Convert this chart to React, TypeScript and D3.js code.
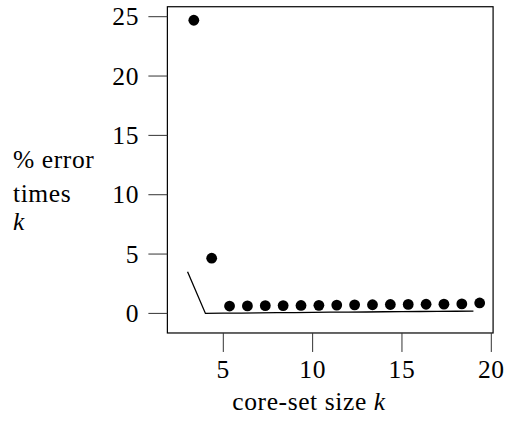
import React from "react";
import * as d3 from "d3";

// core-set size k
const sizes = [3, 4, 5, 6, 7, 8, 9, 10, 11, 12, 13, 14, 15, 16, 17, 18, 19];
// % error times k (dots)
const errorDots = [24.7, 4.65, 0.62, 0.63, 0.65, 0.66, 0.67, 0.68, 0.7, 0.72, 0.73, 0.75, 0.76, 0.77, 0.78, 0.8, 0.88];
// comparison curve (line)
const errorLine = [3.5, 0.0, 0.02, 0.03, 0.05, 0.06, 0.07, 0.08, 0.1, 0.11, 0.12, 0.14, 0.15, 0.16, 0.17, 0.18, 0.2];
const xTicks = [5, 10, 15, 20];
const yTicks = [0, 5, 10, 15, 20, 25];

const width = 509;
const height = 421;
const textStyle = { fontFamily: '"Liberation Serif"', fontSize: 25.5, letterSpacing: 0.6 };

export default function App() {
  const x = d3.scaleLinear().domain([5, 20]).range([223.3, 491.3]);
  const y = d3.scaleLinear().domain([0, 25]).range([313.4, 16.7]);

  const box = { left: x(1.87), right: x(20.1), top: y(25.84), bottom: y(-1.65) };

  const line = d3
    .line<number>()
    .x((_, i) => x(sizes[i]))
    .y((d) => y(d));

  return (
    <svg width={width} height={height} style={{ position: "absolute", left: 0, top: 0 }}>
      <rect x={0} y={0} width={width} height={height} fill="#fff" />
      <rect
        x={box.left}
        y={box.top}
        width={box.right - box.left}
        height={box.bottom - box.top}
        fill="none"
        stroke="#000"
        strokeWidth={1.2}
      />
      {yTicks.map((t) => (
        <g key={"y" + t}>
          <line x1={box.left - 19} x2={box.left} y1={y(t)} y2={y(t)} stroke="#333" strokeWidth={1} />
          <text x={139} y={y(t)} dy="0.34em" textAnchor="end" style={textStyle}>
            {t}
          </text>
        </g>
      ))}
      {xTicks.map((t) => (
        <g key={"x" + t}>
          <line x1={x(t)} x2={x(t)} y1={box.bottom} y2={box.bottom + 19} stroke="#333" strokeWidth={1} />
          <text x={x(t)} y={378} textAnchor="middle" style={textStyle}>
            {t}
          </text>
        </g>
      ))}
      <path d={line(errorLine) || ""} fill="none" stroke="#000" strokeWidth={1.3} />
      {errorDots.map((d, i) => (
        <circle key={i} cx={x(sizes[i] + 0.35)} cy={y(d)} r={5.4} fill="#000" />
      ))}
      <text x={309} y={410} textAnchor="middle" style={textStyle}>
        core-set size <tspan fontStyle="italic">k</tspan>
      </text>
      <text x={13} y={168} style={textStyle}>% error</text>
      <text x={13} y={202} style={textStyle}>times</text>
      <text x={13} y={230} style={{ ...textStyle, fontStyle: "italic" }}>k</text>
    </svg>
  );
}
